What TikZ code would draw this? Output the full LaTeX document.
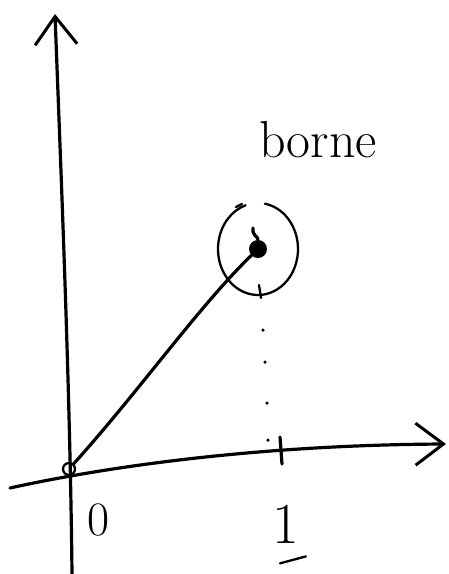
\documentclass[tikz,border=0pt]{standalone}
\usetikzlibrary{arrows.meta,positioning,calc}

\begin{document}
\begin{tikzpicture}[
  x=1pt, y=-1pt,
  >={Straight Barb[length=28pt, width=42pt, line width=3pt]},
  hand/.style={line width=3.2pt, line cap=round, line join=round},
  thin hand/.style={line width=2.3pt, line cap=round},
  lbl/.style={font=\fontsize{48}{48}\selectfont, inner sep=0pt},
  dotmark/.style={fill, circle, inner sep=0pt, minimum size=3.5pt},
]
\useasboundingbox (0,0) rectangle (448,574);

% axes
\coordinate (ybot) at (72,574);
\coordinate (ytop) at (55,14);
\coordinate (xleft) at (10,488);
\coordinate (xright) at (446,444);
\node[thin hand, draw, circle, inner sep=0pt, minimum size=12pt] (orig) at (69,469) {};
\draw[hand, ->] (ybot) .. controls (70,380) and (60,150) .. (ytop);
\draw[hand, ->] (xleft) .. controls (110,466) and (260,445) .. (xright);

% point and its neighbourhood
\node[fill, circle, inner sep=0pt, minimum size=18pt] (pt) at (258,249) {};
\coordinate (tail) at (253,228);
\draw[hand] (tail) .. controls (252,236) and (258,236) .. (pt);
\draw[thin hand] (pt) ++(-80:40 and 46) arc[start angle=-80, end angle=252, x radius=40, y radius=46];
\draw[thin hand] (236,207) -- (242,204);
\draw[thin hand] (259,285) -- (261,298);

% path from origin
\draw[hand] (orig) .. controls (140,390) and (200,305) .. (pt);

% projection on the x axis
\node[dotmark] (d1) at (263,330) {};
\node[dotmark] (d2) at (265,362) {};
\node[dotmark] (d3) at (267,403) {};
\node[dotmark] (d4) at (268,440) {};
\draw[hand] (280,437) -- (282,464);

% labels
\node[lbl] (zero) at (99,520) {0};
\node[lbl, font=\fontsize{58}{58}\selectfont] (one) at (286,524) {1};
\draw[thin hand] (one.south) ++(-6,20) -- ++(26,-7);
\node[lbl, font=\fontsize{52}{52}\selectfont] (borne) at (318,140) {borne};
\end{tikzpicture}
\end{document}
